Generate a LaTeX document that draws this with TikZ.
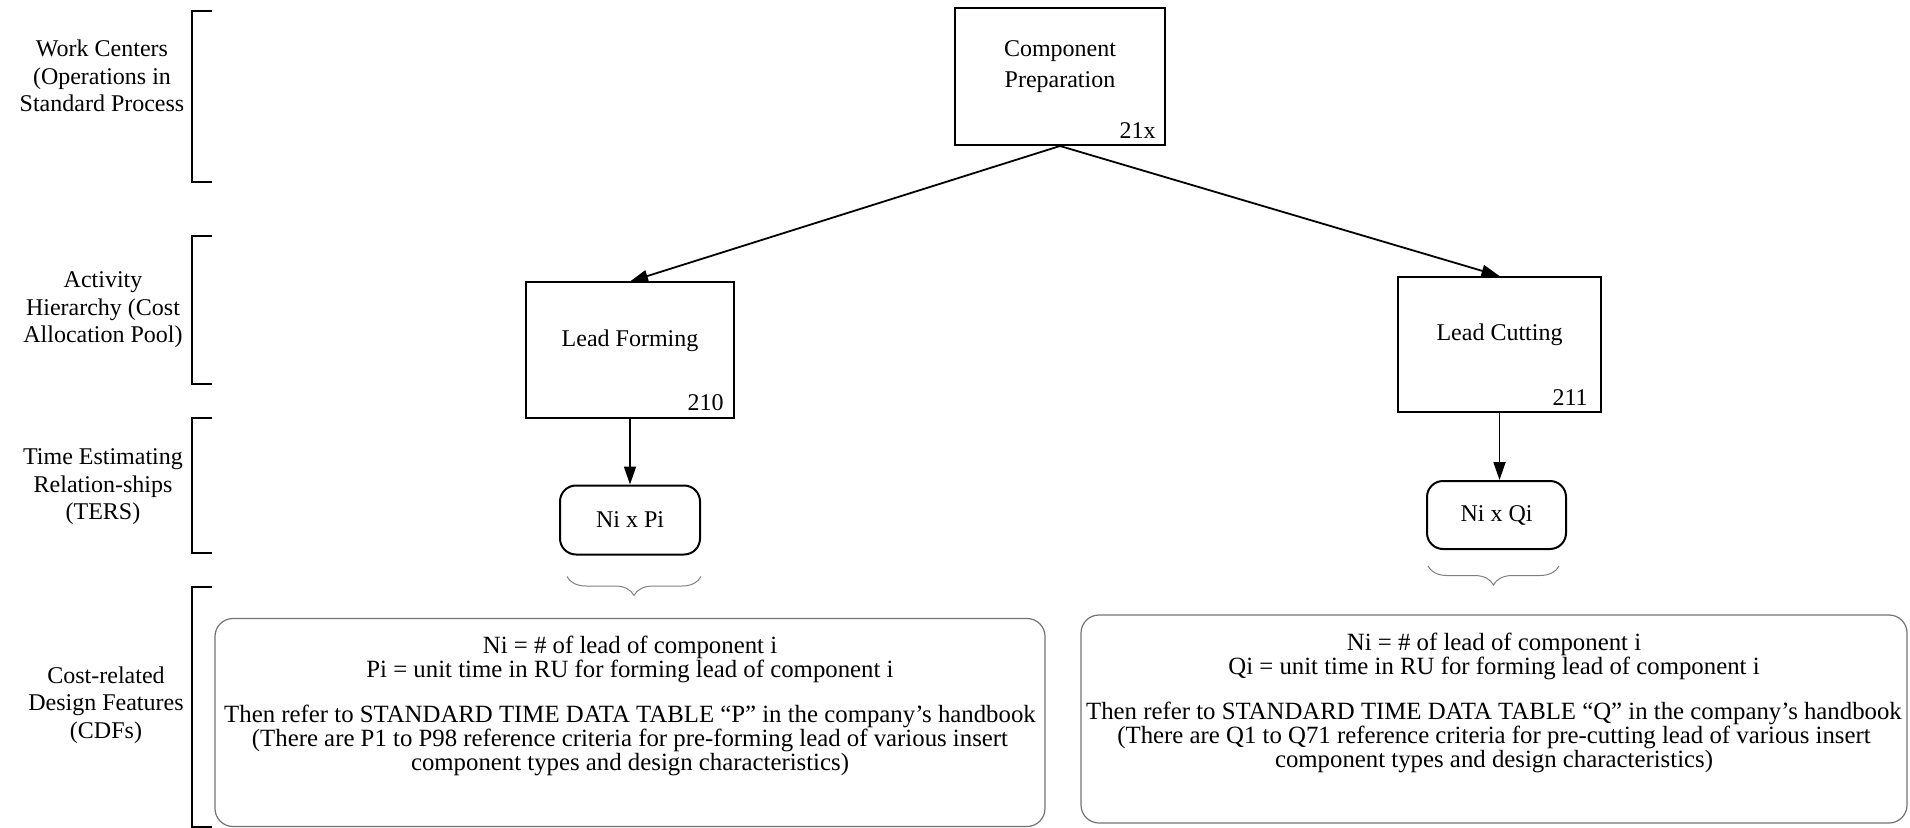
\documentclass[tikz,border=0pt]{standalone}
\usepackage{fontspec}
\setmainfont{Liberation Serif}
\usetikzlibrary{arrows.meta,positioning,decorations.pathreplacing}

\begin{document}
\begin{tikzpicture}[
  x=0.5pt, y=-0.5pt,
  node distance=33pt,
  level/.style={align=center, font=\fontsize{12}{13.8}\selectfont},
  box/.style={draw, line width=1pt, align=center, minimum width=104pt, minimum height=67.5pt, text depth=12pt, font=\fontsize{12}{15.5}\selectfont},
  num/.style={inner sep=0pt, font=\fontsize{12}{12}\selectfont},
  ters/.style={draw, line width=1pt, rounded corners=8pt, minimum width=70pt, minimum height=34.5pt, font=\fontsize{12}{12}\selectfont},
  cdfbox/.style={draw=black!55, line width=0.6pt, rounded corners=9pt, minimum width=415pt, minimum height=104pt},
  cdftext/.style={inner sep=0pt, align=center, font=\fontsize{12.4}{12}\selectfont},
  arrow/.style={-{Triangle[length=9pt,width=6pt]}, line width=0.9pt},
  bracket/.style={line width=1.3pt},
  brace/.style={draw=black!50, line width=0.5pt, decorate, decoration={brace, mirror, amplitude=9.5pt}}
]
\useasboundingbox (0,0) rectangle (1910,828);

% level labels and brackets
\node[level] (work) at (102,76) {Work Centers\\(Operations in\\Standard Process};
\node[level] (activity) at (103,310) {Activity\\Hierarchy (Cost\\Allocation Pool)};
\node[level] (terslabel) at (103,487) {Time Estimating\\Relation-ships\\(TERS)};
\node[level] (cdflabel) at (106,705) {Cost-related\\Design Features\\(CDFs)};
\draw[bracket] (212,11) -- (192,11) -- (192,182) -- (212,182);
\draw[bracket] (212,236) -- (192,236) -- (192,384) -- (212,384);
\draw[bracket] (212,418) -- (192,418) -- (192,553) -- (212,553);
\draw[bracket] (212,587) -- (192,587) -- (192,827) -- (212,827);

% work center and activities
\node[box, minimum width=105pt, minimum height=68.5pt] (prep) at (1060,76.5) {Component\\Preparation};
\node[num, above left=3.5pt and 5pt of prep.south east] (prepnum) {21x};
\node[box] (forming) at (630,350) {Lead Forming};
\node[num, above left=3.5pt and 5.5pt of forming.south east] (formingnum) {210};
\node[box, minimum width=101.5pt] (cutting) at (1499.5,344.5) {Lead Cutting};
\node[num, above left=3.5pt and 7pt of cutting.south east] (cuttingnum) {211};

% time estimating relationships
\node[ters, below=33pt of forming] (tersp) {Ni x Pi};
\node[ters, minimum width=69.5pt, minimum height=34pt, below=33.5pt of cutting.south, xshift=-1.5pt] (tersq) {Ni x Qi};

% cost-related design features
\node[cdfbox] (cdfboxp) at (630,722.5) {};
\node[cdftext, below=9pt of cdfboxp.north] (cdfp) {Ni = \# of lead of component i\\
  Pi = unit time in RU for forming lead of component i\\[10.5pt]
  Then refer to STANDARD TIME DATA TABLE “P” in the company’s handbook\\
  (There are P1 to P98 reference criteria for pre-forming lead of various insert\\
  component types and design characteristics)};
\node[cdfbox, minimum width=413pt] (cdfboxq) at (1494,719) {};
\node[cdftext, below=9pt of cdfboxq.north] (cdfq) {Ni = \# of lead of component i\\
  Qi = unit time in RU for forming lead of component i\\[10.5pt]
  Then refer to STANDARD TIME DATA TABLE “Q” in the company’s handbook\\
  (There are Q1 to Q71 reference criteria for pre-cutting lead of various insert\\
  component types and design characteristics)};

\draw[arrow] (prep.south) -- (forming.north);
\draw[arrow] (prep.south) -- (cutting.north);
\draw[arrow] (forming) -- (tersp);
\draw[arrow] (cutting.south) -- (cutting.south |- tersq.north);
\draw[brace] ([xshift=4pt,yshift=-10.5pt]tersp.south west) -- ([yshift=-10.5pt]tersp.south east);
\draw[brace] ([xshift=1pt,yshift=-8pt]tersq.south west) -- ([xshift=-4pt,yshift=-8pt]tersq.south east);
\end{tikzpicture}
\end{document}
